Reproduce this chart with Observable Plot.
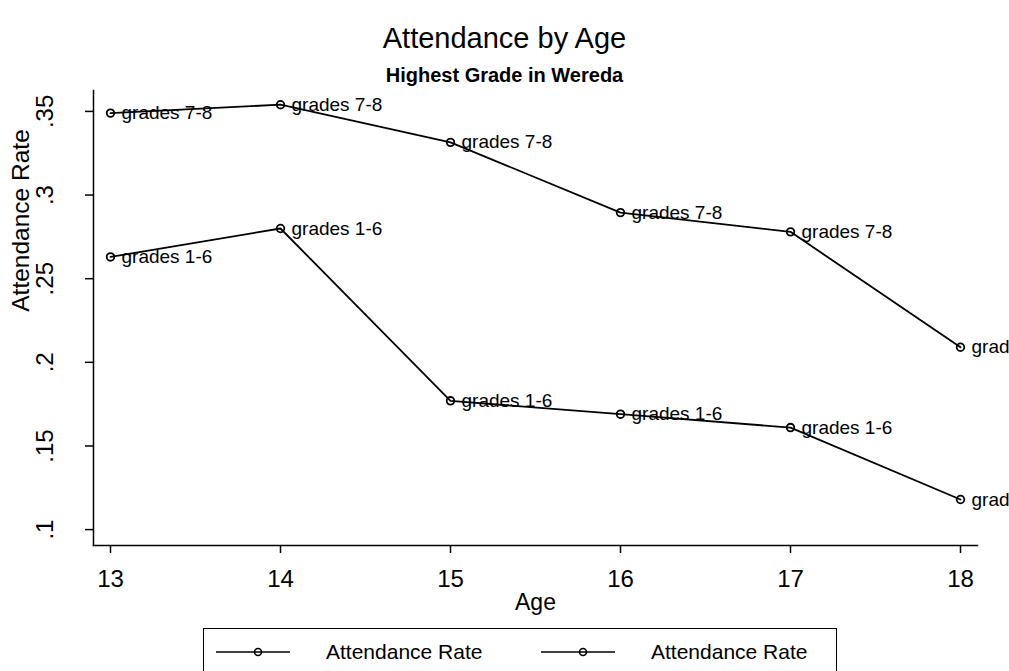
<!DOCTYPE html>
<html>
<head>
<meta charset="utf-8">
<script src="https://cdn.jsdelivr.net/npm/d3@7"></script>
<script src="https://cdn.jsdelivr.net/npm/@observablehq/plot@0.6"></script>
<style>
  html, body { margin: 0; padding: 0; background: white; }
  body { width: 1009px; height: 671px; overflow: hidden; font-family: "Liberation Sans", Arial, sans-serif; color: black; position: relative; }
  #header { position: relative; height: 88px; }
  #title { position: absolute; left: 0; width: 1009px; top: 21px; text-align: center; font-size: 29px; line-height: 34px; }
  #subtitle { position: absolute; left: 0; width: 1009px; top: 63px; text-align: center; font-size: 20px; font-weight: bold; line-height: 24px; }
  #chart svg { display: block; }
  #legend { position: absolute; left: 203px; top: 628px; width: 634px; height: 60px; border: 1.5px solid black; box-sizing: border-box; }
  .item { position: absolute; top: 8px; height: 30px; display: flex; align-items: center; font-size: 21px; }
  .item svg { margin-right: 34px; }
</style>
</head>
<body>
<div id="header"><div id="title"></div><div id="subtitle"></div></div>
<div id="chart"></div>
<div id="legend"></div>
<script>
// ---- data ----
const title = "Attendance by Age";
const subtitle = "Highest Grade in Wereda";
const xLabel = "Age";
const yLabel = "Attendance Rate";
const ages = [13, 14, 15, 16, 17, 18];
const seriesLabels = ["grades 7-8", "grades 1-6"];
const grades78 = [0.349, 0.354, 0.3315, 0.2895, 0.278, 0.209];
const grades16 = [0.263, 0.280, 0.177, 0.169, 0.161, 0.118];
const yTicks = [0.1, 0.15, 0.2, 0.25, 0.3, 0.35];
const legendLabels = ["Attendance Rate", "Attendance Rate"];

document.getElementById("title").textContent = title;
document.getElementById("subtitle").textContent = subtitle;

const data = ages.flatMap((a, i) => [
  {age: a, rate: grades78[i], series: seriesLabels[0]},
  {age: a, rate: grades16[i], series: seriesLabels[1]}
]);

const chart = Plot.plot({
  width: 1009,
  height: 540,
  marginTop: 2,
  marginLeft: 93,
  marginRight: 32,
  marginBottom: 83,
  style: {fontFamily: "'Liberation Sans', Arial, sans-serif", background: "white", color: "black", overflow: "visible"},
  x: {domain: [12.9, 18.1]},
  y: {domain: [0.0905, 0.3625]},
  marks: [
    Plot.frame({anchor: "left", stroke: "black", strokeWidth: 1.5}),
    Plot.frame({anchor: "bottom", stroke: "black", strokeWidth: 1.5}),
    Plot.axisX({ticks: ages, tickFormat: d => String(d), tickSize: 8, tickPadding: 16, fontSize: 24, strokeWidth: 1.5, label: null}),
    Plot.axisX({ticks: [], fontSize: 23, label: xLabel, labelAnchor: "center", labelOffset: 64, labelArrow: "none"}),
    Plot.axisY({ticks: yTicks, tickFormat: d => String(d).replace(/^0/, ""), tickSize: 8, tickPadding: 33, tickRotate: -90,
      fontSize: 24, strokeWidth: 1.5, label: null}),
    Plot.text([yLabel], {text: d => d, frameAnchor: "top-left", rotate: -90, dx: -82, dy: 130, fontSize: 24.5, textAnchor: "middle", fill: "black"}),
    Plot.line(data, {x: "age", y: "rate", z: "series", stroke: "black", strokeWidth: 1.8}),
    Plot.dot(data, {x: "age", y: "rate", r: 3.8, stroke: "black", strokeWidth: 1.8, fill: "none"}),
    Plot.text(data, {x: "age", y: "rate", text: "series", textAnchor: "start", dx: 11, fontSize: 19, fill: "black"})
  ]
});
document.getElementById("chart").appendChild(chart);

// legend
const legend = document.getElementById("legend");
const lefts = [10, 335];
legendLabels.forEach((lab, i) => {
  const it = document.createElement("div");
  it.className = "item";
  it.style.left = lefts[i] + "px";
  it.innerHTML = `<svg width="78" height="14"><line x1="2" y1="7" x2="76" y2="7" stroke="black" stroke-width="1.6"/><circle cx="44" cy="7" r="3.5" fill="none" stroke="black" stroke-width="1.6"/></svg>`;
  const span = document.createElement("span");
  span.textContent = lab;
  it.appendChild(span);
  legend.appendChild(it);
});
</script>
</body>
</html>
